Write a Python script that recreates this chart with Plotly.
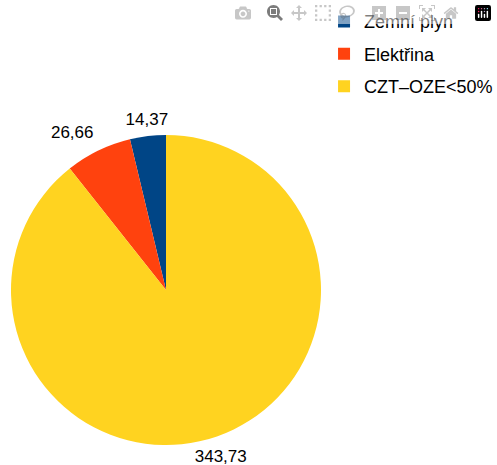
import plotly.graph_objects as go

labels = ["Zemní plyn", "Elektřina", "CZT–OZE<50%"]
values = [14.37, 26.66, 343.73]
colors = ["#004586", "#ff420e", "#ffd320"]

blue_angle = values[0] / sum(values) * 360
W, H = 497, 465

def dom(cx, cy, half):
    return dict(x=[(cx - half) / W, (cx + half) / W],
                y=[1 - (cy + half) / H, 1 - (cy - half) / H])

# main pie geometry in pixels (layout only)
CX, CY, R = 166, 290, 155
# label carriers: (center dx, center dy, radius shrink) per label (layout only)
carrier = [(25, -7, 0), (0, -10, 0), (-20.4, 30.8, 20)]

fig = go.Figure()
fig.add_trace(go.Pie(
    labels=labels, values=values, sort=False,
    direction="counterclockwise", rotation=-blue_angle,
    marker=dict(colors=colors, line=dict(width=0)),
    textinfo="none",
    domain=dom(CX, CY, R), hoverinfo="label+value", showlegend=False,
))
for i in range(len(values)):
    tt = [""] * len(values)
    tt[i] = "%{value:.2f}"
    dx, dy, s = carrier[i]
    fig.add_trace(go.Pie(
        labels=labels, values=values, sort=False,
        direction="counterclockwise", rotation=-blue_angle,
        marker=dict(colors=["rgba(0,0,0,0)"] * 3, line=dict(width=0)),
        textposition="outside", texttemplate=tt,
        textfont=dict(family="Liberation Sans", size=17, color="#000000"),
        domain=dom(CX + dx, CY + dy, R - s),
        hoverinfo="skip", showlegend=False,
    ))

for lab, col in zip(labels, colors):
    fig.add_trace(go.Scatter(
        x=[None], y=[None], mode="markers", name=lab, legendgroup=lab,
        marker=dict(symbol="square", size=12, color=col),
        hoverinfo="skip",
    ))

fig.update_layout(
    width=W, height=H,
    margin=dict(l=0, r=0, t=0, b=0, autoexpand=False),
    separators=", ",
    paper_bgcolor="white",
    plot_bgcolor="white",
    font=dict(family="Liberation Sans", size=18, color="#000000"),
    xaxis=dict(visible=False),
    yaxis=dict(visible=False),
    legend=dict(x=0.652, y=0.993, xanchor="left", yanchor="top",
                font=dict(family="Liberation Sans", size=18),
                itemwidth=30, tracegroupgap=6, bgcolor="rgba(0,0,0,0)"),
)

fig.write_html("out.html",
               post_script="document.body.style.margin='0';document.body.style.padding='0';")
